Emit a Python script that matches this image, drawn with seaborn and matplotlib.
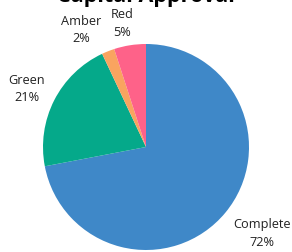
import matplotlib
matplotlib.use('Agg')
import matplotlib.pyplot as plt
import seaborn as sns
import numpy as np

# data
categories = ['Complete', 'Green', 'Amber', 'Red']
shares = [72, 21, 2, 5]
colors = ['#3F88C8', '#05A98A', '#F9A460', '#FE6289']
# label placement: distance from centre (in radii) and angle nudge (deg)
label_dist = [1.40, 1.29, 1.31, 1.23]
label_nudge = [3.2, 0.6, 7.2, 1.9]

sns.set_theme(style='white')
plt.rcParams['font.family'] = ['Open Sans', 'DejaVu Sans']

fig = plt.figure(figsize=(2.92, 2.53), dpi=100)
ax = fig.add_axes([43 / 292, 2 / 253, 206 / 292, 206 / 253])

wedges, _ = ax.pie(shares, colors=sns.color_palette(colors), startangle=90,
                   counterclock=False, wedgeprops=dict(linewidth=0))
ax.set_xlim(-1, 1)
ax.set_ylim(-1, 1)
ax.set_aspect('equal')
ax.axis('off')

for w, name, val, d, nudge in zip(wedges, categories, shares, label_dist, label_nudge):
    ang = np.deg2rad((w.theta1 + w.theta2) / 2 + nudge)
    ax.text(d * np.cos(ang), d * np.sin(ang), f'{name}\n{val}%',
            ha='center', va='center', fontsize=9.2, color='#222222',
            linespacing=1.45, clip_on=False)

# title sits partly above the top edge, as in the original
fig.text(0.5, 1.012, 'Capital Approval', ha='center', va='center',
         fontsize=15.5, fontweight='bold', color='black')

fig.savefig('out.png', dpi=100)
